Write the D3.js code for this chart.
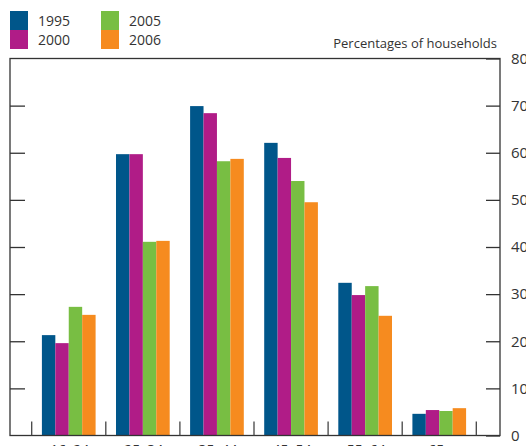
<!DOCTYPE html>
<html>
<head>
<meta charset="utf-8">
<script src="https://cdn.jsdelivr.net/npm/d3@7"></script>
<style>
  html, body { margin: 0; padding: 0; background: #fff; overflow: hidden; }
  svg { display: block; }
  text { font-family: "Open Sans", "Noto Sans", sans-serif; fill: #333; }
</style>
</head>
<body>
<svg id="chart" width="526" height="446"></svg>
<script>
// Age bands of the household reference person
const categories = ["16–24", "25–34", "35–44", "45–54", "55–64", "65+"];
// Survey years
const years = ["1995", "2000", "2005", "2006"];
const colors = ["#00568a", "#b01c87", "#78be43", "#f68b1f"];
// Percentages of households, one array per year
const values1995 = [21.3, 59.7, 69.9, 62.1, 32.4, 4.6];
const values2000 = [19.6, 59.7, 68.4, 58.9, 29.8, 5.4];
const values2005 = [27.3, 41.1, 58.2, 54.0, 31.7, 5.2];
const values2006 = [25.6, 41.3, 58.7, 49.5, 25.4, 5.8];
const yTicks = [0, 10, 20, 30, 40, 50, 60, 70, 80];

const seriesValues = [values1995, values2000, values2005, values2006];

const svg = d3.select("#chart");
const frame = { left: 10, right: 500, top: 58.5, bottom: 435.5 };

const y = d3.scaleLinear().domain([0, 80]).range([frame.bottom, frame.top]);
const x0 = d3.scaleBand().domain(categories).range([31.7, 476.3]).padding(0);
const x1 = d3.scaleBand().domain(years).range([0, x0.bandwidth()])
  .paddingInner(0).paddingOuter(0.76);

// Bars
const groups = svg.append("g").selectAll("g")
  .data(categories)
  .join("g")
  .attr("transform", d => `translate(${x0(d)},0)`);

groups.selectAll("rect")
  .data((c, i) => years.map((yr, k) => ({ year: yr, k, v: seriesValues[k][i] })))
  .join("rect")
  .attr("x", d => x1(d.year))
  .attr("width", x1.bandwidth())
  .attr("y", d => y(d.v))
  .attr("height", d => y(0) - y(d.v))
  .attr("fill", d => colors[d.k]);

// Frame
svg.append("rect")
  .attr("x", frame.left).attr("y", frame.top)
  .attr("width", frame.right - frame.left)
  .attr("height", frame.bottom - frame.top)
  .attr("fill", "none").attr("stroke", "#333").attr("stroke-width", 1.3);

// Right value axis with inward ticks
const rightAxis = d3.axisRight(y).tickValues(yTicks).tickSize(-14);
const ra = svg.append("g").attr("transform", `translate(${frame.right},0)`).call(rightAxis);
ra.select(".domain").remove();
ra.selectAll(".tick line").attr("stroke", "#333").attr("stroke-width", 1.3);
ra.selectAll(".tick text")
  .attr("x", 11).attr("text-anchor", "start")
  .style("font-family", "\"Open Sans\", sans-serif").style("font-size", "15px").attr("fill", "#333");

// Left inward ticks mirroring the value axis
const leftAxis = d3.axisLeft(y).tickValues(yTicks.slice(1, -1)).tickSize(-15).tickFormat("");
const la = svg.append("g").attr("transform", `translate(${frame.left},0)`).call(leftAxis);
la.select(".domain").remove();
la.selectAll(".tick line").attr("stroke", "#333").attr("stroke-width", 1.3);

// Category separators and labels
const boundaries = categories.map(c => x0(c)).concat([x0(categories[categories.length - 1]) + x0.bandwidth()]);
svg.append("g").selectAll("line")
  .data(boundaries)
  .join("line")
  .attr("x1", d => d).attr("x2", d => d)
  .attr("y1", frame.bottom - 14).attr("y2", frame.bottom)
  .attr("stroke", "#444").attr("stroke-width", 1.3);

svg.append("g").selectAll("text")
  .data(categories)
  .join("text")
  .attr("x", d => x0(d) + x0.bandwidth() / 2 + 1)
  .attr("y", 455)
  .attr("text-anchor", "middle")
  .style("font-size", "14px")
  .text(d => d);

// Unit label
svg.append("text")
  .attr("x", 497).attr("y", 48)
  .attr("text-anchor", "end")
  .style("font-size", "13px")
  .text("Percentages of households");

// Legend: two columns of stacked swatches
const legend = svg.append("g");
const legendItems = legend.selectAll("g")
  .data(years)
  .join("g")
  .attr("transform", (d, i) => `translate(${10 + Math.floor(i / 2) * 91},${11 + (i % 2) * 19})`);
legendItems.append("rect")
  .attr("width", 18).attr("height", 19)
  .attr("fill", (d, i) => colors[i]);
legendItems.append("text")
  .attr("x", 28).attr("y", 15)
  .style("font-size", "14px")
  .text(d => d);
</script>
</body>
</html>
